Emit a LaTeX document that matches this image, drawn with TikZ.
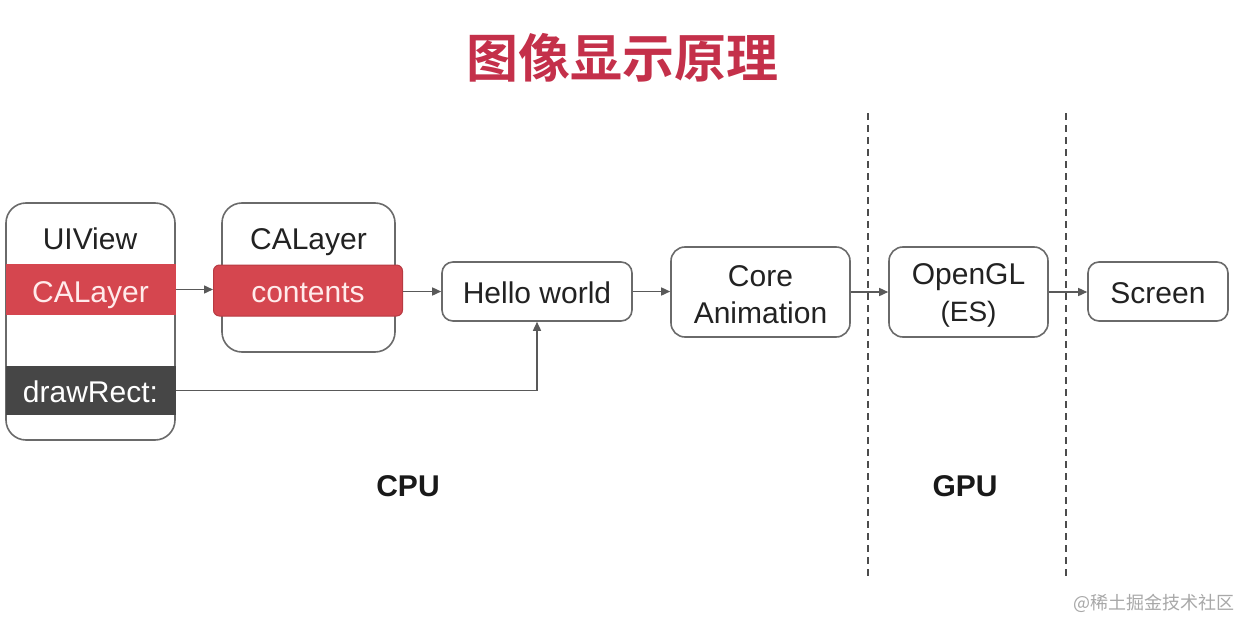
\documentclass[tikz,border=0pt]{standalone}
\usepackage{fontspec}
\setmainfont{Liberation Sans}
\newfontfamily\cjk{Noto Sans CJK SC}
\newfontfamily\cjkbold{Noto Sans CJK SC Bold}
\usetikzlibrary{arrows.meta}
\definecolor{bandred}{HTML}{D5464F}
\definecolor{bandredline}{HTML}{B83A42}
\definecolor{banddark}{HTML}{464646}
\definecolor{boxline}{HTML}{6A6A6A}
\definecolor{txt}{HTML}{222222}
\definecolor{titlered}{HTML}{C4304A}
\definecolor{wmark}{HTML}{A8A8A8}
\begin{document}
\begin{tikzpicture}[x=1pt,y=-1pt,
  capfix/.style={text height=21.5pt, text depth=0pt},
  lbl/.style={font=\fontsize{30}{37}\selectfont, text=txt, inner sep=0pt, capfix},
  outerbox/.style={draw=boxline, line width=1.6pt, rounded corners=20pt, inner sep=0pt, fill=white},
  procbox/.style={draw=boxline, line width=1.6pt, rounded corners=11pt, inner sep=0pt, fill=white,
     font=\fontsize{30}{37}\selectfont, text=txt, align=center},
  redband/.style={fill=bandred, inner sep=0pt, text=white!92!red, font=\fontsize{30}{37}\selectfont},
  darkband/.style={fill=banddark, inner sep=0pt, text=white, font=\fontsize{30}{37}\selectfont},
  arr/.style={draw=black!65, line width=1.5pt, -{Triangle[length=9pt,width=8pt]}},
  sep/.style={draw=black!70, line width=1.8pt, dash pattern=on 7pt off 5pt},
  cpu/.style={font=\fontsize{30}{36}\selectfont\bfseries, text=black!90, inner sep=0pt, capfix}
]
\useasboundingbox[fill=white] (0,0) rectangle (1240,618);

% title
\node[font=\cjkbold\fontsize{52}{60}\selectfont, text=titlered, inner sep=0pt] (title) at (622,58) {图像显示原理};

% dashed separators
\coordinate (s1t) at (868,113); \coordinate (s1b) at (868,578);
\coordinate (s2t) at (1066,113); \coordinate (s2b) at (1066,578);
\draw[sep] (s1t) -- (s1b);
\draw[sep] (s2t) -- (s2b);

% UIView
\node[outerbox, minimum width=169pt, minimum height=237pt] (uiview) at (90.5,321.5) {};
\node[lbl] (uiviewlbl) at (90,238.5) {UIView};
\node[redband, minimum width=170pt, minimum height=51pt] (uvlayer) at (90.5,289.5) {};
\node[redband, capfix] (uvlayertxt) at (90.5,291.5) {CALayer};
\node[darkband, minimum width=170pt, minimum height=49pt] (drawrect) at (90.5,390.5) {};
\node[darkband, capfix, fill=none] (drawrecttxt) at (90.5,391.5) {drawRect:};

% CALayer
\node[outerbox, minimum width=173pt, minimum height=149pt] (calayer) at (308.5,277.5) {};
\node[lbl] (calayerlbl) at (308.5,238.5) {CALayer};
\node[redband, draw=bandredline, line width=1pt, rounded corners=6pt, minimum width=189pt, minimum height=51pt] (contents) at (308,290.5) {};
\node[redband, fill=none, capfix] (contentstxt) at (308,291.5) {contents};

% process boxes
\node[procbox, minimum width=190pt, minimum height=59pt] (hello) at (537,291.5) {};
\node[lbl] (hellotxt) at (537,292.5) {Hello world};
\node[procbox, rounded corners=14pt, minimum width=179pt, minimum height=90pt] (core) at (760.5,292) {};
\node[procbox, draw=none, fill=none] (coretxt) at (760.5,295) {Core\\Animation};
\node[procbox, rounded corners=14pt, minimum width=159pt, minimum height=90pt] (opengl) at (968.5,292) {};
\node[procbox, draw=none, fill=none] (opengltxt) at (968.5,295) {OpenGL\\{\fontsize{28}{34}\selectfont (ES)}};
\node[procbox, minimum width=140pt, minimum height=59pt] (screen) at (1158,291.5) {};
\node[lbl] (screentxt) at (1158,292.5) {Screen};

% arrows
\draw[arr] (uvlayer.east) -- (uvlayer.east -| contents.west);
\draw[arr] (contents.east |- hello.west) -- (hello.west);
\draw[arr] (hello.east) -- (hello.east -| core.west);
\draw[arr] (core.east) -- (opengl.west);
\draw[arr] (opengl.east) -- (opengl.east -| screen.west);
\draw[arr] (drawrect.east) -| (hello.south);

% labels
\node[cpu] (cpu) at (408,486) {CPU};
\node[cpu] (gpu) at (965,486) {GPU};

% watermark
\node[font=\cjk\fontsize{18}{22}\selectfont, text=wmark, inner sep=0pt] (wm) at (1154,603) {@稀土掘金技术社区};
\end{tikzpicture}
\end{document}
